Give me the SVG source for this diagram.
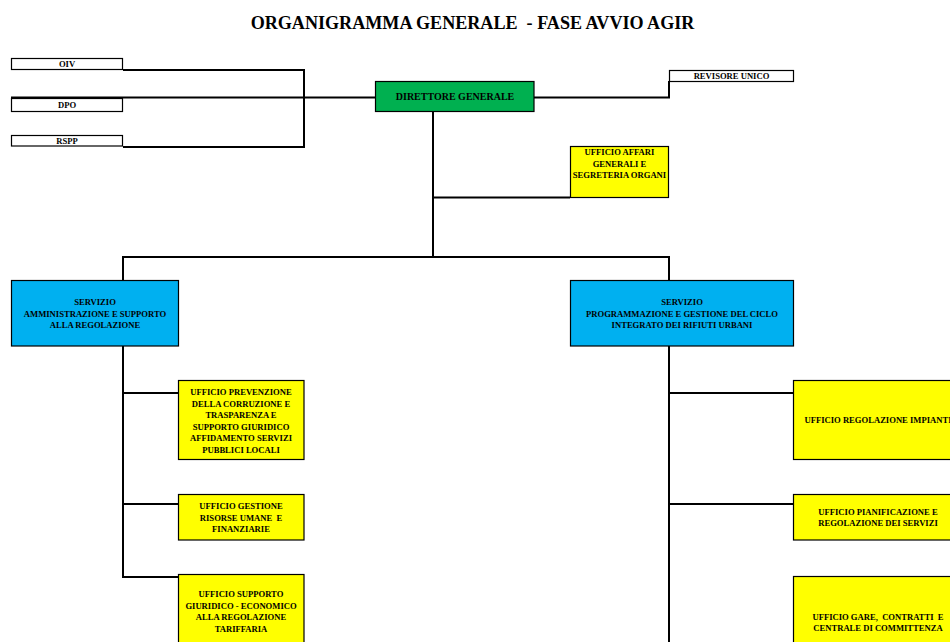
<svg xmlns="http://www.w3.org/2000/svg" width="950" height="642" viewBox="0 0 950 642">
<style>
text{font-family:"Liberation Serif","Times New Roman",serif;font-weight:bold;fill:#000;text-anchor:middle;white-space:pre}
.t{font-size:8.6px}
.title{font-size:18.1px}
.box{stroke:#000;stroke-width:1.2}
.w{fill:#fff}.g{fill:#00B050}.y{fill:#FFFF00}.b{fill:#00B0F0}
.c{fill:none;stroke:#000;stroke-width:2}
</style>
<rect width="950" height="642" fill="#fff"/>
<text class="title" x="472.5" y="29" xml:space="preserve">ORGANIGRAMMA GENERALE  - FASE AVVIO AGIR</text>
<g id="connectors">
<polyline class="c" points="123,70 304,70 304,147 123,147"/>
<line class="c" x1="11" y1="97.5" x2="375" y2="97.5"/>
<polyline class="c" points="534,97.5 669,97.5 669,81"/>
<line class="c" x1="433" y1="112" x2="433" y2="257"/>
<line class="c" x1="433" y1="197.5" x2="570" y2="197.5"/>
<polyline class="c" points="123,281 123,257 669,257 669,281"/>
<polyline class="c" points="123,346 123,577 178,577"/>
<line class="c" x1="123" y1="393" x2="178" y2="393"/>
<line class="c" x1="123" y1="504" x2="178" y2="504"/>
<line class="c" x1="669" y1="346" x2="669" y2="642"/>
<line class="c" x1="669" y1="393" x2="793" y2="393"/>
<line class="c" x1="669" y1="504" x2="793" y2="504"/>
</g>
<g id="oiv"><rect class="box w" x="11.5" y="58.5" width="111" height="11"/><text class="t" x="67" y="67">OIV</text></g>
<g id="dpo"><rect class="box w" x="11.5" y="98.5" width="111" height="13"/><text class="t" x="67" y="108">DPO</text></g>
<g id="rspp"><rect class="box w" x="11.5" y="135.5" width="111" height="10.5"/><text class="t" x="67" y="144">RSPP</text></g>
<g id="dg"><rect class="box g" x="375.5" y="81.5" width="158.5" height="30"/><text style="font-size:10px" x="455" y="100">DIRETTORE GENERALE</text></g>
<g id="revisore"><rect class="box w" x="669.5" y="70.5" width="124" height="11"/><text class="t" x="731.5" y="79">REVISORE UNICO</text></g>
<g id="affari"><rect class="box y" x="570.5" y="146.5" width="98" height="51"/>
<text class="t" x="619.5" y="155">UFFICIO AFFARI</text><text class="t" x="619.5" y="166.5">GENERALI E</text><text class="t" x="619.5" y="178">SEGRETERIA ORGANI</text></g>
<g id="servizio-amm"><rect class="box b" x="11.5" y="280.5" width="167" height="65.5"/>
<text class="t" x="95" y="305">SERVIZIO</text><text class="t" x="95" y="316.5">AMMINISTRAZIONE E SUPPORTO</text><text class="t" x="95" y="328">ALLA REGOLAZIONE</text></g>
<g id="servizio-prog"><rect class="box b" x="570.5" y="280.5" width="223" height="65.5"/>
<text class="t" x="682" y="305">SERVIZIO</text><text class="t" x="682" y="316.5">PROGRAMMAZIONE E GESTIONE DEL CICLO</text><text class="t" x="682" y="328">INTEGRATO DEI RIFIUTI URBANI</text></g>
<g id="prevenzione"><rect class="box y" x="178.5" y="380.5" width="125.5" height="79"/>
<text class="t" x="241" y="395">UFFICIO PREVENZIONE</text><text class="t" x="241" y="406.5">DELLA CORRUZIONE E</text><text class="t" x="241" y="418">TRASPARENZA E</text><text class="t" x="241" y="429.5">SUPPORTO GIURIDICO</text><text class="t" x="241" y="441">AFFIDAMENTO SERVIZI</text><text class="t" x="241" y="452.5">PUBBLICI LOCALI</text></g>
<g id="gestione"><rect class="box y" x="178.5" y="494.5" width="125.5" height="45.5"/>
<text class="t" x="241" y="509">UFFICIO GESTIONE</text><text class="t" x="241" y="520.5" xml:space="preserve">RISORSE UMANE  E</text><text class="t" x="241" y="532">FINANZIARIE</text></g>
<g id="supporto"><rect class="box y" x="178.5" y="574.5" width="125.5" height="80"/>
<text class="t" x="241" y="597">UFFICIO SUPPORTO</text><text class="t" x="241" y="608.5">GIURIDICO - ECONOMICO</text><text class="t" x="241" y="620">ALLA REGOLAZIONE</text><text class="t" x="241" y="631.5">TARIFFARIA</text></g>
<g id="impianti"><rect class="box y" x="793.5" y="380.5" width="170" height="79"/>
<text class="t" x="878" y="423">UFFICIO REGOLAZIONE IMPIANTI</text></g>
<g id="pianificazione"><rect class="box y" x="793.5" y="494.5" width="170" height="45.5"/>
<text class="t" x="878" y="514.5">UFFICIO PIANIFICAZIONE E</text><text class="t" x="878" y="526">REGOLAZIONE DEI SERVIZI</text></g>
<g id="gare"><rect class="box y" x="793.5" y="576.5" width="170" height="80"/>
<text class="t" x="878" y="619.5" xml:space="preserve">UFFICIO GARE,  CONTRATTI  E</text><text class="t" x="878" y="631">CENTRALE DI COMMITTENZA</text></g>
</svg>
